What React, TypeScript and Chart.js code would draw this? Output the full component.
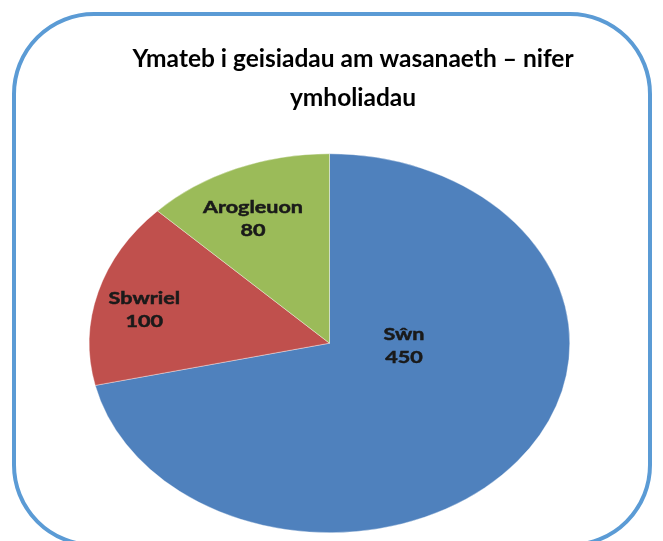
import { useEffect, useRef } from "react";
import { Chart, registerables } from "chart.js";

Chart.register(...registerables);

// ---- data ----
const categories = ["Sŵn", "Sbwriel", "Arogleuon"];
const values = [450, 100, 80];
const titleLines = ["Ymateb i geisiadau am wasanaeth – nifer", "ymholiadau"];

// ---- style ----
const sliceColors = ["#4F81BD", "#C0504D", "#9BBB59"];
const labelAngleShift = [-36, -3, -3]; // degrees, relative to slice mid-angle
const labelRadius = [0.31, 0.79, 0.73]; // fraction of outer radius
const W = 663;
const H = 541;
const PIE_CENTER_X = 329.5;
const STRETCH_X = 1.268;

const ellipsePlugin = {
  id: "ellipsePie",
  beforeDatasetsDraw(chart: any) {
    const ctx = chart.ctx;
    const a = chart.chartArea;
    const cx = (a.left + a.right) / 2;
    ctx.save();
    ctx.translate(PIE_CENTER_X, 0);
    ctx.scale(STRETCH_X, 1);
    ctx.translate(-cx, 0);
  },
  afterDatasetsDraw(chart: any) {
    const ctx = chart.ctx;
    const meta = chart.getDatasetMeta(0);
    ctx.font = "700 17px Lato";
    ctx.fillStyle = "#1a1a1a";
    ctx.strokeStyle = "#1a1a1a";
    ctx.lineWidth = 0.5;
    ctx.textAlign = "center";
    ctx.textBaseline = "middle";
    meta.data.forEach((arc: any, i: number) => {
      const p = arc.getProps(["x", "y", "startAngle", "endAngle", "outerRadius"], true);
      const mid = (p.startAngle + p.endAngle) / 2 + (labelAngleShift[i] * Math.PI) / 180;
      const r = p.outerRadius * labelRadius[i];
      const x = p.x + Math.cos(mid) * r;
      const y = p.y + Math.sin(mid) * r;
      ctx.fillText(categories[i], x, y - 11.5);
      ctx.strokeText(categories[i], x, y - 11.5);
      ctx.fillText(String(values[i]), x, y + 11.5);
      ctx.strokeText(String(values[i]), x, y + 11.5);
    });
    ctx.restore();
  },
};

export default function App() {
  const ref = useRef<HTMLCanvasElement | null>(null);

  useEffect(() => {
    if (!ref.current) return;
    const chart = new Chart(ref.current, {
      type: "pie",
      data: {
        labels: categories,
        datasets: [
          {
            data: values,
            backgroundColor: sliceColors,
            borderColor: "rgba(255,255,255,0.55)",
            borderWidth: 0.6,
          },
        ],
      },
      options: {
        responsive: false,
        animation: false,
        devicePixelRatio: 1,
        layout: { padding: { left: 43, right: 0, top: 0, bottom: 8 } },
        plugins: {
          legend: { display: false },
          tooltip: { enabled: false },
          title: {
            display: true,
            text: titleLines,
            color: "#000",
            font: { family: "Lato", weight: "bold", size: 24.5, lineHeight: 1.58 },
            padding: { top: 40, bottom: 36 },
          },
        },
      },
      plugins: [ellipsePlugin],
    });
    return () => chart.destroy();
  }, []);

  return (
    <div
      style={{
        position: "fixed",
        left: 0,
        top: 0,
        width: W,
        height: H,
        overflow: "hidden",
        background: "#fff",
      }}
    >
      <div
        style={{
          position: "absolute",
          left: 12,
          top: 12,
          width: 640,
          height: 535,
          boxSizing: "border-box",
          border: "4px solid #5B9BD5",
          borderRadius: 82,
        }}
      />
      <canvas
        ref={ref}
        width={W}
        height={H}
        style={{ position: "absolute", left: 0, top: 0, width: W, height: H, display: "block" }}
      />
    </div>
  );
}
